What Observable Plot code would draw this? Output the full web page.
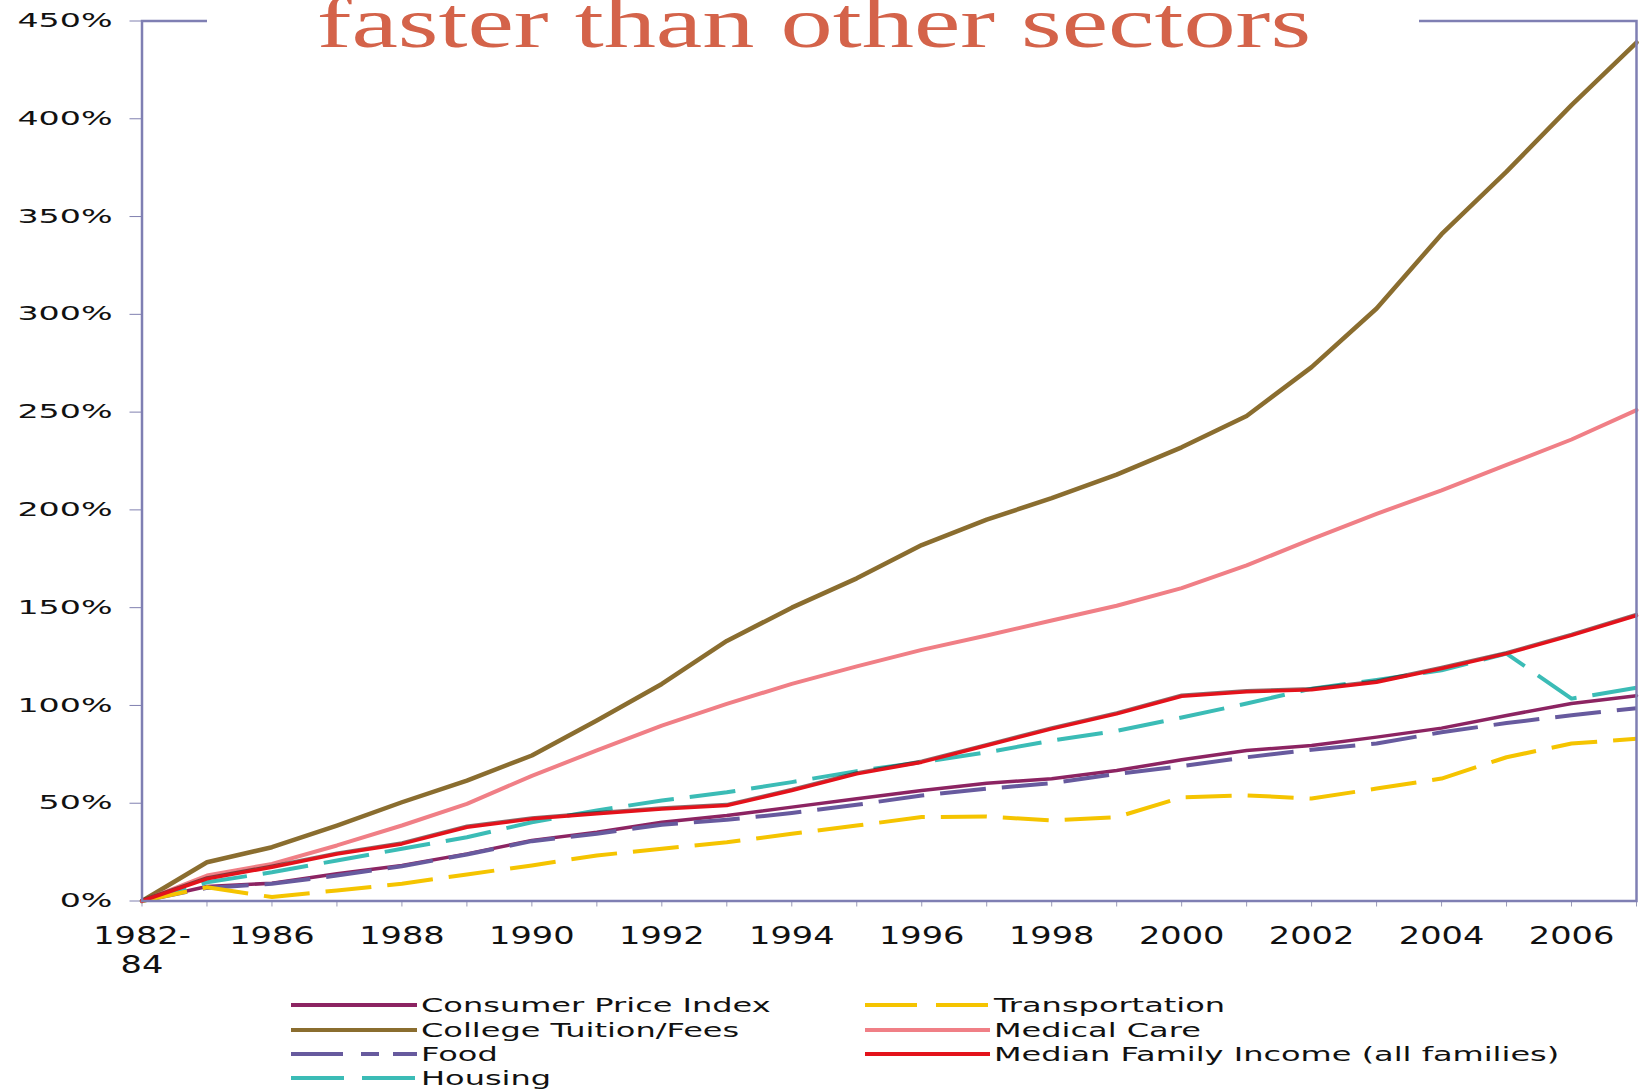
<!DOCTYPE html>
<html>
<head>
<meta charset="utf-8">
<script src="https://cdn.jsdelivr.net/npm/d3@7"></script>
<script src="https://cdn.jsdelivr.net/npm/@observablehq/plot@0.6"></script>
<style>
  html, body { margin: 0; padding: 0; background: #fff; }
  #wrap { position: relative; width: 1642px; height: 1089px; overflow: hidden; background: #fff; }
  #chart { position: absolute; left: 0; top: 0; }
  #titlebox { position: absolute; left: 207px; top: 0; width: 1212px; height: 56px; background: #fff; overflow: hidden; }
  #title { position: absolute; white-space: nowrap; font-family: "Liberation Serif", serif; font-size: 72px; line-height: 72px; color: #d4634a; top: -13px; transform-origin: center center; }
  .leg { position: absolute; height: 24px; }
  .leg svg { position: absolute; left: 0; top: 0; }
  .leg span { position: absolute; top: 0; white-space: nowrap; font-family: "DejaVu Sans", sans-serif; font-size: 20px; line-height: 24px; color: #111; transform-origin: left center; }
</style>
</head>
<body>
<div id="wrap">
  <div id="chart"></div>
  <div id="titlebox"><span id="title">faster than other sectors</span></div>
  <div id="legend"></div>
</div>
<script>
// ---- data ----
const categories = ["1982-84","1985","1986","1987","1988","1989","1990","1991","1992","1993","1994","1995","1996","1997","1998","1999","2000","2001","2002","2003","2004","2005","2006","2007"];
const labelCategories = ["1982-84","1986","1988","1990","1992","1994","1996","1998","2000","2002","2004","2006"];
const labelTexts = ["1982-\n84","1986","1988","1990","1992","1994","1996","1998","2000","2002","2004","2006"];
const yTicks = [0, 50, 100, 150, 200, 250, 300, 350, 400, 450];

const cpi = [0, 7.4, 9.1, 13.9, 18.2, 24.1, 31.0, 35.2, 40.3, 43.7, 48.0, 52.3, 56.5, 60.2, 62.5, 66.7, 72.2, 77.0, 79.5, 83.8, 88.4, 94.9, 101.0, 105.0];
const tuition = [0, 19.8, 27.5, 38.6, 50.5, 61.6, 74.4, 92.3, 111, 133, 150, 165, 182, 195, 206, 218, 232, 248, 273, 303, 341, 373, 407, 439];
const food = [0, 6.7, 8.8, 13.0, 17.8, 23.8, 30.6, 34.4, 39.0, 41.5, 45.0, 49.2, 54.0, 57.4, 60.2, 65.0, 69.0, 73.5, 77.4, 80.5, 86.3, 91.0, 95.0, 98.6];
const housing = [0, 9.6, 14.7, 20.7, 26.7, 32.6, 40.3, 46.3, 51.4, 55.6, 60.8, 66.4, 71.0, 76.0, 82.0, 87.0, 93.8, 101.0, 108.6, 113.0, 118.0, 126.5, 103.5, 109.0];
const transportation = [0, 7.0, 2.0, 5.4, 8.8, 13.6, 18.2, 23.3, 26.7, 30.0, 34.4, 38.6, 42.9, 43.2, 41.2, 42.9, 53.0, 54.0, 52.4, 57.5, 62.6, 73.5, 80.5, 83.0];
const medical = [0, 13.0, 19.0, 28.4, 38.6, 49.7, 64.0, 77.0, 89.7, 100.8, 111.0, 120.0, 128.4, 135.8, 143.4, 151.0, 160.0, 171.6, 185.0, 198.0, 210.0, 223.0, 236.0, 251.0];
const income = [0, 11.3, 17.3, 24.0, 29.2, 37.7, 42.0, 44.6, 47.1, 48.8, 56.5, 65.0, 71.0, 79.5, 88.0, 95.7, 104.7, 107.0, 108.0, 111.9, 118.9, 126.5, 135.8, 146.0];

const seriesNames = ["Consumer Price Index","College Tuition/Fees","Food","Housing","Transportation","Medical Care","Median Family Income (all families)"];
const seriesValues = [cpi, tuition, food, housing, transportation, medical, income];

// ---- styles ----
const styles = [
  {stroke: "#8c2462", width: 3.5, dash: null},
  {stroke: "#8a6d2f", width: 4.5, dash: null},
  {stroke: "#675a9e", width: 4, dash: "46 16"},
  {stroke: "#3bbcb6", width: 4, dash: "46 16"},
  {stroke: "#f5c400", width: 4, dash: "46 16"},
  {stroke: "#f07f86", width: 4, dash: null},
  {stroke: "#e3121b", width: 3.5, dash: null}
];
const legendDash = [null, null, "52 18 18 14", "53 18", "52 19", null, null];

const tables = seriesValues.map((vals, s) => vals.map((v, i) => ({cat: categories[i], value: v, series: seriesNames[s]})));

const marks = [];
tables.forEach((t, s) => {
  const st = styles[s];
  if (s === 6) {
    marks.push(Plot.lineY(t, {x: "cat", y: "value", stroke: "#3a0a0a", strokeWidth: 3, strokeOpacity: 0.6, dy: -1.2}));
  }
  marks.push(Plot.lineY(t, {
    x: "cat", y: "value", stroke: st.stroke, strokeWidth: st.width,
    strokeDasharray: st.dash || undefined,
    strokeLinecap: st.dash ? "butt" : "round", strokeLinejoin: "round"
  }));
});

const svg = Plot.plot({
  width: 1642,
  height: 980,
  marginLeft: 141.5,
  marginRight: 6,
  marginTop: 20.5,
  marginBottom: 79.5,
  style: {fontFamily: "DejaVu Sans, sans-serif", color: "#111", background: "#fff", overflow: "visible"},
  x: {type: "point", domain: categories, padding: 0, round: false, range: [141.5, 1636]},
  y: {domain: [0, 450], range: [900.5, 20.5]},
  marks: [
    Plot.axisY(yTicks, {tickSize: 12, tickPadding: 17.5, tickFormat: d => d + "%", fontSize: 19, stroke: "#8080b0", label: null}),
    Plot.axisX(categories, {tickSize: 6, tickFormat: () => "", stroke: "#9a9ab8", label: null}),
    Plot.axisX(labelCategories, {tickSize: 0, tickPadding: 23, tickFormat: d => labelTexts[labelCategories.indexOf(d)], fontSize: 24, lineHeight: 1.2, label: null}),
    ...marks,
    Plot.frame({stroke: "#7f7fb3", strokeWidth: 2.5})
  ]
});
document.getElementById("chart").appendChild(svg);

// widen text to match the reference's stretched lettering
function stretchText(el, factor) {
  const tspans = el.querySelectorAll("tspan");
  const targets = tspans.length ? Array.from(tspans) : [el];
  targets.forEach(t => {
    const len = t.getComputedTextLength();
    if (len > 0) {
      t.setAttribute("textLength", (len * factor).toFixed(1));
      t.setAttribute("lengthAdjust", "spacingAndGlyphs");
    }
  });
}
svg.querySelectorAll('g[aria-label="y-axis tick label"] text').forEach(t => stretchText(t, 1.75));
svg.querySelectorAll('g[aria-label="x-axis tick label"] text').forEach(t => stretchText(t, 1.4));

// title
const title = document.getElementById("title");
const tw = title.offsetWidth;
title.style.left = (606.5 - tw / 2) + "px";
title.style.transform = "scaleX(" + (995 / tw).toFixed(3) + ")";

// legend
const legend = document.getElementById("legend");
const legendPos = [
  {x: 291, y: 993, w: 126}, {x: 291, y: 1017.5, w: 126}, {x: 291, y: 1041.5, w: 126}, {x: 291, y: 1065.5, w: 126},
  {x: 865, y: 993, w: 125}, {x: 865, y: 1017.5, w: 125}, {x: 865, y: 1041.5, w: 125}
];
seriesNames.forEach((name, s) => {
  const p = legendPos[s];
  const item = document.createElement("div");
  item.className = "leg";
  item.style.left = p.x + "px";
  item.style.top = p.y + "px";
  item.style.width = "800px";
  const ns = "http://www.w3.org/2000/svg";
  const sw = document.createElementNS(ns, "svg");
  sw.setAttribute("width", p.w);
  sw.setAttribute("height", 24);
  const ln = document.createElementNS(ns, "line");
  ln.setAttribute("x1", 0); ln.setAttribute("x2", p.w);
  ln.setAttribute("y1", 12); ln.setAttribute("y2", 12);
  ln.setAttribute("stroke", styles[s].stroke);
  ln.setAttribute("stroke-width", 4);
  if (legendDash[s]) ln.setAttribute("stroke-dasharray", legendDash[s]);
  sw.appendChild(ln);
  item.appendChild(sw);
  const sp = document.createElement("span");
  sp.textContent = name;
  sp.style.left = (p.w + 4) + "px";
  sp.style.transform = "scaleX(1.6)";
  item.appendChild(sp);
  legend.appendChild(item);
});
</script>
</body>
</html>
